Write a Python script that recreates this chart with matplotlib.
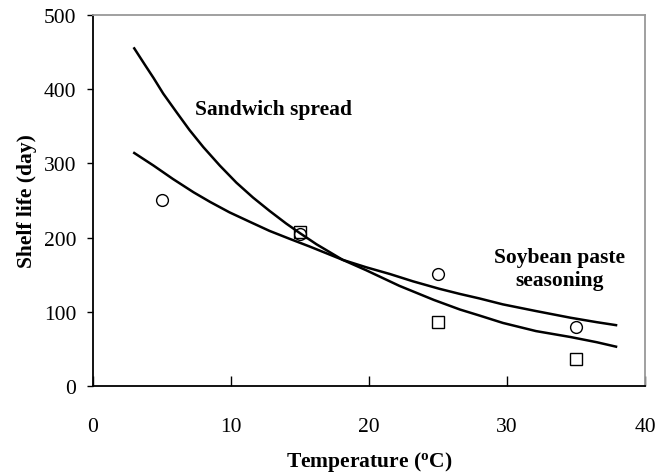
import matplotlib.pyplot as plt

# fitted curves
sandwich_t = [3.0, 3.8, 4.4, 5.1, 6.1, 7.0, 8.0, 9.2, 10.4, 11.6, 12.8, 14.0, 15.0,
              16.2, 18.1, 19.8, 22.2, 24.7, 26.6, 28.0, 29.7, 32.1, 34.6, 36.5, 37.9]
sandwich_life = [455, 432, 415, 394, 368, 345, 322, 297, 274, 254, 236, 219, 206,
                 191, 170, 156, 135, 116, 103, 95, 85, 74, 66, 59, 53]

soy_t = [3.0, 4.4, 5.8, 7.3, 8.5, 9.9, 11.4, 12.8, 14.3, 15.7, 18.1, 19.8, 21.5,
         23.2, 25.1, 26.6, 28.0, 29.7, 32.1, 34.6, 36.5, 37.9]
soy_life = [314, 297, 279, 261, 248, 234, 221, 209, 198, 188, 170, 160, 151,
            141, 131, 124, 118, 110, 101, 92, 86, 82]

# observed points
soy_obs_t = [5, 15, 25, 35]
soy_obs_life = [250, 205, 151, 80]
sand_obs_t = [15, 25, 35]
sand_obs_life = [207, 86, 36]

plt.rcParams['font.family'] = ['Liberation Serif', 'DejaVu Serif']

fig = plt.figure(figsize=(6.68, 4.77), dpi=100)
ax = fig.add_axes([0.139, 0.1887, 0.8266, 0.7778])

ax.plot(sandwich_t, sandwich_life, color='black', lw=1.8)
ax.plot(soy_t, soy_life, color='black', lw=1.8)
ax.plot(soy_obs_t, soy_obs_life, 'o', mfc='none', mec='black', ms=8.5, mew=1)
ax.plot(sand_obs_t, sand_obs_life, 's', mfc='none', mec='black', ms=8, mew=1)

ax.text(13.1, 373, 'Sandwich spread', ha='center', va='center',
        fontsize=15.5, fontweight='bold')
ax.text(33.8, 159, 'Soybean paste\nseasoning', ha='center', va='center',
        fontsize=15.5, fontweight='bold', linespacing=1.2)

ax.set_xlim(0, 40)
ax.set_ylim(0, 500)
ax.set_xticks([0, 10, 20, 30, 40])
ax.set_yticks([0, 100, 200, 300, 400, 500])

ax.tick_params(axis='x', direction='in', length=7, width=1, pad=22, labelsize=15.5)
ax.tick_params(axis='y', direction='out', length=4, width=1, pad=8, labelsize=15.5)

for s in ['left', 'bottom']:
    ax.spines[s].set_linewidth(1.3)
for s in ['top', 'right']:
    ax.spines[s].set_color('#999999')
    ax.spines[s].set_linewidth(1.3)

ax.set_xlabel('Temperature ($\\mathregular{^{o}}$C)', fontsize=15.5, fontweight='bold', labelpad=10)
ax.set_ylabel('Shelf life (day)', fontsize=15.5, fontweight='bold', labelpad=5)

plt.savefig('out.png', dpi=100)
